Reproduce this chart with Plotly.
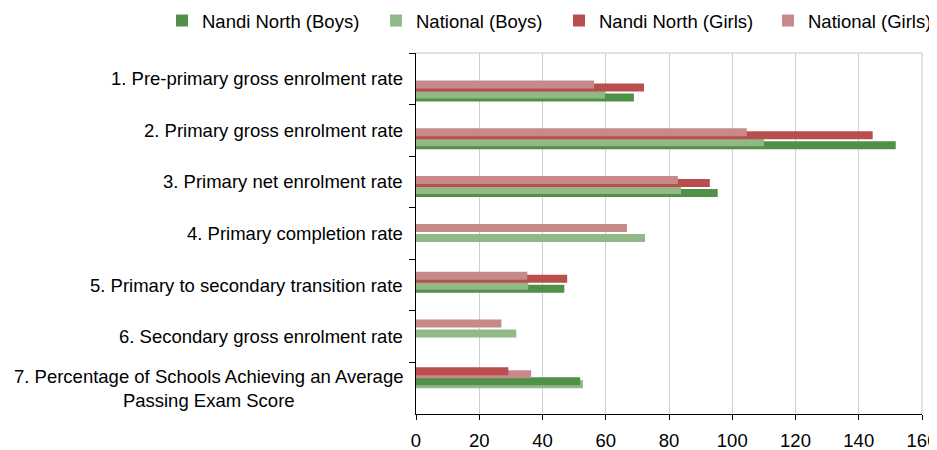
import plotly.graph_objects as go

# ---- data ----
categories = [
    "1. Pre-primary gross enrolment rate",
    "2. Primary gross enrolment rate",
    "3. Primary net enrolment rate",
    "4. Primary completion rate",
    "5. Primary to secondary transition rate",
    "6. Secondary gross enrolment rate",
    "7. Percentage of Schools Achieving an Average<br>Passing Exam Score",
]
series_names = ["Nandi North (Boys)", "National (Boys)",
                "Nandi North (Girls)", "National (Girls)"]
nandi_boys = [68.9, 151.7, 95.4, None, 46.9, None, 51.9]
national_boys = [59.8, 110.0, 83.8, 72.4, 35.5, 31.7, 52.8]
nandi_girls = [72.1, 144.4, 92.9, None, 47.8, None, 29.2]
national_girls = [56.3, 104.6, 82.8, 66.7, 35.2, 27.0, 36.4]
x_ticks = [0, 20, 40, 60, 80, 100, 120, 140, 160]

# ---- styling ----
FONT = "Liberation Sans, Arial, sans-serif"
FS = 18.5
COLORS = ["#509048", "#92B888", "#B84E4D", "#C78A8A"]

# the page body adds an 8px margin, so the figure is drawn 8px smaller/shifted
W, H = 929, 442
PL, PR, PT, PB = 408, 914, 45, 406          # plot area edges in figure pixels
PX_PER_GROUP = 47.8      # spacing of bar groups in pixels
FIRST_GROUP_PX = 83      # pixel centre of the first bar group (figure coords)
BAR_PX = 8
SLOT_TOP = {"A": -10.5, "B": -7.5, "C": -0.5, "D": 2.5}   # px, relative to group centre
# (anchor px in figure coords, xanchor) for each legend entry
LEGEND_POS = [(154, "left"), (368, "left"), (551, "left"), (929, "right")]
LEGEND_ROW_PX = 13

pw = PR - PL
ph = PB - PT
top_val = -(FIRST_GROUP_PX - PT) / PX_PER_GROUP
bot_val = top_val + (PB - PT) / PX_PER_GROUP

values = [nandi_boys, national_boys, nandi_girls, national_girls]
legend_ids = ["legend", "legend2", "legend3", "legend4"]

# drawing order (later on top) and vertical slot of each series
main = [(0, "D"), (1, "C"), (2, "B"), (3, "A")]
last = [(1, "D"), (0, "C"), (3, "B"), (2, "A")]

fig = go.Figure()
n_main = len(categories) - 1
for idx, slot in main:
    fig.add_trace(go.Bar(
        x=values[idx][:n_main], y=categories[:n_main], orientation="h",
        name=series_names[idx], legendgroup=series_names[idx], legend=legend_ids[idx],
        marker=dict(color=COLORS[idx], line=dict(width=0)),
        offset=SLOT_TOP[slot] / PX_PER_GROUP, width=BAR_PX / PX_PER_GROUP,
        yaxis="y2"))
for idx, slot in last:
    fig.add_trace(go.Bar(
        x=values[idx][n_main:], y=categories[n_main:], orientation="h",
        name=series_names[idx], legendgroup=series_names[idx], legend=legend_ids[idx],
        showlegend=False, marker=dict(color=COLORS[idx], line=dict(width=0)),
        offset=SLOT_TOP[slot] / PX_PER_GROUP, width=BAR_PX / PX_PER_GROUP,
        yaxis="y2"))

# invisible trace so the labelled category axis knows its categories
fig.add_trace(go.Scatter(x=[0] * len(categories), y=categories, mode="none",
                         showlegend=False, hoverinfo="skip"))

for c in categories:
    fig.add_annotation(x=0, xref="paper", y=c, yref="y", text=c, showarrow=False,
                       xanchor="right", xshift=-11, align="center",
                       font=dict(family=FONT, size=FS, color="#000000"))

legends = {}
for lid, (pos, anchor) in zip(legend_ids, LEGEND_POS):
    legends[lid] = dict(orientation="h", xref="paper", yref="paper",
                        x=(pos - PL) / pw, xanchor=anchor,
                        y=(PB - LEGEND_ROW_PX) / ph, yanchor="middle",
                        font=dict(family=FONT, size=FS, color="#000000"),
                        bgcolor="rgba(0,0,0,0)", borderwidth=0)

fig.update_layout(
    template="none",
    width=W, height=H,
    margin=dict(l=PL, r=W - PR, t=PT, b=H - PB, pad=0, autoexpand=False),
    paper_bgcolor="white", plot_bgcolor="white",
    barmode="overlay",
    font=dict(family=FONT, size=FS, color="#000000"),
    **legends,
    xaxis=dict(range=[0, 160], tickvals=x_ticks, showgrid=True, gridcolor="#CFCFCF",
               gridwidth=1, zeroline=False, showline=True, linecolor="#000000",
               linewidth=1, ticks="outside", ticklen=5, tickcolor="#000000",
               automargin=False, ticklabelstandoff=5, ticklabeloverflow="allow",
               tickfont=dict(family=FONT, size=FS, color="#000000")),
    yaxis=dict(type="category", categoryorder="array", categoryarray=categories,
               range=[len(categories) - 0.5, -0.5], tickson="boundaries",
               ticks="outside", ticklen=6, tickcolor="#000000", automargin=False,
               showticklabels=False, showgrid=False, zeroline=False,
               showline=True, linecolor="#000000", linewidth=1),
    yaxis2=dict(type="category", categoryorder="array", categoryarray=categories,
                overlaying="y", range=[bot_val, top_val], visible=False),
    shapes=[
        dict(type="line", xref="paper", yref="paper", x0=0, x1=1, y0=1, y1=1,
             line=dict(color="#C4C4C4", width=1), layer="below"),
        dict(type="line", xref="paper", yref="paper", x0=1, x1=1, y0=0, y1=1,
             line=dict(color="#C4C4C4", width=1), layer="below"),
    ],
)

fig.write_html("out.html")
